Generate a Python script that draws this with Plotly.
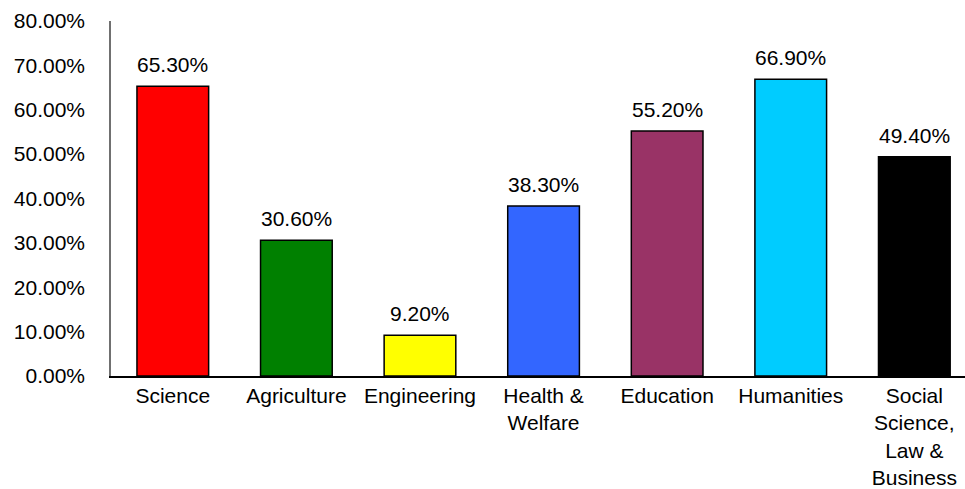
import plotly.graph_objects as go

categories = ["Science", "Agriculture", "Engineering", "Health &<br>Welfare",
              "Education", "Humanities", "Social<br>Science,<br>Law &<br>Business"]
values = [65.3, 30.6, 9.2, 38.3, 55.2, 66.9, 49.4]
colors = ["#FF0000", "#008000", "#FFFF00", "#3366FF", "#993366", "#00CCFF", "#000000"]
tick_vals = [0, 10, 20, 30, 40, 50, 60, 70, 80]
tick_text = ["%.2f%%" % v for v in tick_vals]

font = dict(family="Liberation Sans, Arial, sans-serif", size=21, color="#000000")

fig = go.Figure()
fig.add_trace(go.Bar(
    x=list(range(len(categories))), y=values,
    marker=dict(color=colors, line=dict(color="#000000", width=1.5)),
    width=0.58, hoverinfo="skip"))

for i, v in enumerate(values):
    fig.add_annotation(x=i, y=v, text="%.2f%%" % v, showarrow=False,
                       yanchor="bottom", yshift=8, font=font)

fig.update_layout(
    width=965, height=489,
    margin=dict(l=111, r=0, t=21, b=113),
    paper_bgcolor="white", plot_bgcolor="white",
    showlegend=False, font=font,
    xaxis=dict(range=[-0.5, 6.41], tickvals=list(range(len(categories))),
               ticktext=categories, showgrid=False, zeroline=False,
               showline=True, linecolor="#000000", linewidth=1.5,
               ticks="", automargin=False,
               tickfont=font, fixedrange=True),
    yaxis=dict(range=[0, 80], tickvals=tick_vals, ticktext=tick_text,
               showgrid=False, zeroline=False, showline=True,
               linecolor="#707070", linewidth=1.5, ticks="",
               ticklabelstandoff=20, automargin=False,
               tickfont=font, fixedrange=True),
)

fig.write_html("out.html")
